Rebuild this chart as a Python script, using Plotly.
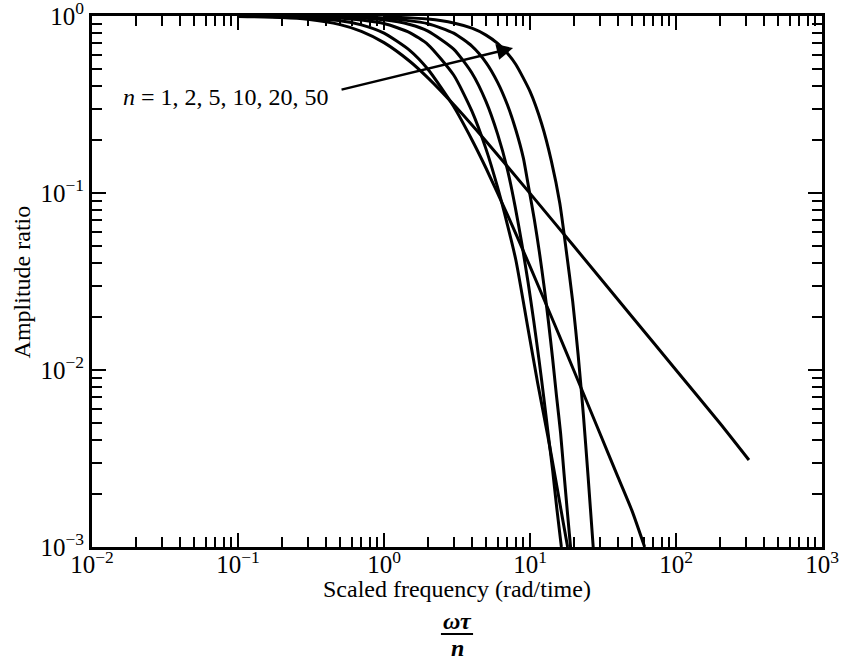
import plotly.graph_objects as go

# ---- data (scaled frequency vs amplitude ratio) ----
x_n1 = [0.1, 0.2, 0.3, 0.5, 0.7, 1, 1.5, 2, 3, 5, 10, 20, 50, 100, 200, 316]
ar_n1 = [0.995, 0.981, 0.958, 0.894, 0.819, 0.707, 0.555, 0.447, 0.316, 0.196,
         0.0995, 0.050, 0.020, 0.0100, 0.0050, 0.0031]

x_n2 = [0.1, 0.2, 0.5, 0.7, 1, 1.5, 2, 3, 4, 5, 7, 10, 15, 20, 30, 40, 50, 61]
ar_n2 = [0.9975, 0.990, 0.941, 0.891, 0.800, 0.640, 0.500, 0.308, 0.200, 0.138,
         0.0755, 0.0385, 0.0175, 0.0099, 0.00442, 0.00249, 0.0016, 0.0010]

x_n5 = [0.1, 0.5, 1, 1.5, 2, 3, 4, 5, 6, 7, 8, 9.6, 11.3, 13.2, 15, 16.9, 18.1]
ar_n5 = [0.999, 0.975, 0.907, 0.806, 0.690, 0.464, 0.290, 0.177, 0.1075, 0.0663,
         0.0418, 0.0179, 0.0084, 0.0043, 0.0024, 0.00137, 0.0010]

x_n10 = [0.2, 0.5, 1, 1.5, 2, 3, 4, 5, 6, 7, 7.9, 8.8, 9.7, 10.6, 11.5, 12.4,
         13.3, 14.3, 15.2, 16.4]
ar_n10 = [0.9998, 0.988, 0.951, 0.895, 0.822, 0.650, 0.476, 0.328, 0.215, 0.136,
          0.0843, 0.0515, 0.0313, 0.0190, 0.0116, 0.0071, 0.0044, 0.0027,
          0.0017, 0.0010]

x_n20 = [0.5, 1, 2, 3, 4, 5, 6, 7, 8, 9, 9.8, 10.7, 11.6, 12.5, 13.4, 14.3,
         15.2, 16.2, 17.1, 18.0, 19.0]
ar_n20 = [0.994, 0.975, 0.905, 0.800, 0.676, 0.546, 0.422, 0.315, 0.227, 0.158,
          0.107, 0.0711, 0.0462, 0.0295, 0.0185, 0.0115, 0.0071, 0.0044,
          0.0026, 0.0016, 0.00098]

x_n50 = [1, 2, 3, 4, 5, 6, 7, 8, 10, 12, 14, 16, 17.7, 19.6, 21.4, 23.2, 25.0, 27.1]
ar_n50 = [0.990, 0.961, 0.914, 0.853, 0.780, 0.700, 0.616, 0.532, 0.375, 0.247,
          0.152, 0.0874, 0.0475, 0.0245, 0.0120, 0.0056, 0.0025, 0.0010]

series = [(x_n1, ar_n1), (x_n2, ar_n2), (x_n5, ar_n5),
          (x_n10, ar_n10), (x_n20, ar_n20), (x_n50, ar_n50)]

x_tickvals = [0.01, 0.1, 1, 10, 100, 1000]
x_ticktext = ["10<sup>−2</sup>", "10<sup>−1</sup>", "10<sup>0</sup>",
              "10<sup>1</sup>", "10<sup>2</sup>", "10<sup>3</sup>"]
y_tickvals = [0.001, 0.01, 0.1, 1]
y_ticktext = ["10<sup>−3</sup>", "10<sup>−2</sup>", "10<sup>−1</sup>", "10<sup>0</sup>"]

FONT = "Liberation Serif"

fig = go.Figure()
for xs, ys in series:
    fig.add_trace(go.Scatter(x=xs, y=ys, mode="lines",
                             line=dict(color="black", width=3, shape="spline", smoothing=0.6),
                             showlegend=False, hoverinfo="skip"))

axis_common = dict(
    type="log", showgrid=False, zeroline=False, automargin=False,
    showline=True, linecolor="black", linewidth=3, mirror="ticks",
    ticks="inside", ticklen=14, tickwidth=2, tickcolor="black",
    ticklabeloverflow="allow",
    tickfont=dict(family=FONT, size=25, color="black"),
    minor=dict(ticks="inside", ticklen=10, tickwidth=2, tickcolor="black",
               dtick="D1", showgrid=False),
)

fig.update_layout(
    width=845, height=665,
    margin=dict(l=92, r=23, t=16, b=118),
    paper_bgcolor="white", plot_bgcolor="white",
    font=dict(family=FONT, color="black"),
    xaxis=dict(range=[-2, 3], tickmode="array", tickvals=x_tickvals,
               ticktext=x_ticktext, ticklabelstandoff=-7, **axis_common),
    yaxis=dict(range=[-3, 0], tickmode="array", tickvals=y_tickvals,
               ticktext=y_ticktext, **axis_common),
)

# axis titles
fig.add_annotation(text="Scaled frequency (rad/time)", xref="paper", yref="paper",
                   x=0.5, y=-0.08, xanchor="center", yanchor="middle",
                   showarrow=False, font=dict(family=FONT, size=24))
fig.add_annotation(text="Amplitude ratio", xref="paper", yref="paper",
                   x=-0.096, y=0.5, xanchor="center", yanchor="middle", textangle=-90,
                   showarrow=False, font=dict(family=FONT, size=24))
# fraction omega tau / n
fig.add_annotation(text="<b><i>ωτ</i></b>", xref="paper", yref="paper",
                   x=0.5, y=-0.139, xanchor="center", yanchor="middle",
                   showarrow=False, font=dict(family=FONT, size=24))
fig.add_annotation(text="<b><i>n</i></b>", xref="paper", yref="paper",
                   x=0.5, y=-0.191, xanchor="center", yanchor="middle",
                   showarrow=False, font=dict(family=FONT, size=24))
fig.add_shape(type="line", xref="paper", yref="paper",
              x0=0.478, x1=0.522, y0=-0.164, y1=-0.164,
              line=dict(color="black", width=2))

# label and arrow
fig.add_annotation(text="<i>n</i> = 1, 2, 5, 10, 20, 50", xref="x", yref="y",
                   x=-1.08, y=-0.458, xanchor="center", yanchor="middle",
                   showarrow=False, font=dict(family=FONT, size=24))
fig.add_annotation(text="", xref="x", yref="y", axref="x", ayref="y",
                   x=0.884, y=-0.181, ax=-0.301, ay=-0.418,
                   showarrow=True, arrowhead=2, arrowsize=1.3, arrowwidth=2.5,
                   arrowcolor="black")

fig.write_html("out.html", config={"displayModeBar": False},
               post_script="document.body.style.margin='0px';")
